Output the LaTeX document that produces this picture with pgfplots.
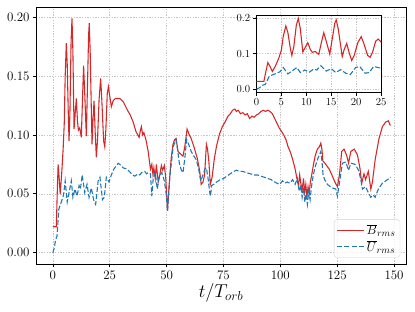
\documentclass[border=0pt]{standalone}
\usepackage{pgfplots}
\pgfplotsset{compat=1.18}
\usepackage{pgfplotstable}
\definecolor{tabred}{HTML}{D62728}
\definecolor{tabblue}{HTML}{1F77B4}

\pgfplotstableread{
t v
0 0.022
1.5 0.022
1.9 0.050
2.3 0.075
2.7 0.065
3.2 0.050
3.8 0.065
4.5 0.088
5.0 0.110
5.4 0.150
5.9 0.178
6.3 0.160
6.8 0.115
7.1 0.095
7.5 0.120
8.0 0.180
8.4 0.199
8.8 0.170
9.3 0.105
9.8 0.118
10.3 0.131
10.8 0.112
11.2 0.104
11.8 0.106
12.5 0.098
13.0 0.130
13.5 0.159
14.0 0.135
14.7 0.099
15.3 0.150
15.7 0.185
16.0 0.195
16.4 0.170
17.2 0.092
17.6 0.112
18.1 0.129
18.6 0.102
19.1 0.081
19.6 0.095
20.3 0.130
21.0 0.148
21.5 0.130
22.3 0.095
22.8 0.090
23.3 0.105
23.9 0.135
24.4 0.141
25.0 0.133
25.7 0.124
26.5 0.129
27.5 0.131
29.4 0.131
31.0 0.128
32.8 0.121
34.0 0.117
35.3 0.111
36.5 0.103
37.9 0.098
38.5 0.104
38.9 0.107
39.5 0.100
40.0 0.102
40.9 0.096
41.9 0.086
42.9 0.071
43.5 0.075
44.0 0.066
44.4 0.072
45.0 0.063
45.5 0.075
46.3 0.060
47.0 0.066
47.7 0.074
48.3 0.070
49.0 0.074
49.6 0.064
50.4 0.036
51.2 0.060
52.0 0.080
52.8 0.092
53.5 0.096
54.2 0.097
55.0 0.086
56.0 0.084
57.2 0.082
58.0 0.090
59.0 0.105
60.0 0.100
60.8 0.097
62.0 0.090
63.5 0.080
64.5 0.070
65.2 0.058
66.0 0.060
66.7 0.066
67.5 0.092
68.0 0.088
68.6 0.077
69.2 0.058
70.0 0.064
71.0 0.080
72.0 0.091
73.3 0.101
74.5 0.107
75.7 0.111
77.0 0.116
78.0 0.118
79.0 0.121
80.0 0.122
80.7 0.120
81.5 0.121
82.5 0.118
83.5 0.119
84.5 0.117
85.5 0.118
86.5 0.114
87.5 0.116
88.5 0.115
89.5 0.117
90.5 0.118
91.5 0.120
92.5 0.121
93.5 0.120
94.5 0.121
95.5 0.120
96.5 0.118
97.5 0.114
98.5 0.110
99.5 0.106
100.5 0.103
101.5 0.100
102.5 0.096
103.4 0.090
104.5 0.085
105.6 0.078
106.4 0.072
107.0 0.066
107.6 0.060
108.0 0.057
108.5 0.066
109.0 0.059
109.6 0.053
110.2 0.063
110.7 0.051
111.2 0.058
111.7 0.047
112.2 0.056
112.7 0.050
113.2 0.060
113.8 0.066
114.5 0.074
115.3 0.082
116.3 0.088
117.2 0.090
117.8 0.093
118.3 0.088
118.7 0.078
120.0 0.075
121.5 0.071
122.9 0.065
124.0 0.060
125.1 0.056
126.0 0.066
127.0 0.086
128.0 0.088
129.1 0.083
130.0 0.076
131.0 0.086
132.5 0.088
133.9 0.083
135.0 0.072
135.8 0.059
136.8 0.067
137.5 0.062
138.7 0.069
139.8 0.054
140.5 0.060
141.7 0.079
143.4 0.097
144.9 0.107
146.3 0.111
147.5 0.112
148.4 0.108
}\Bdata

\pgfplotstableread{
t v
0 0.000
0.6 0.004
1.2 0.011
1.8 0.014
2.6 0.037
3.7 0.043
4.7 0.049
5.4 0.061
6.3 0.043
7.1 0.051
8.1 0.061
8.8 0.047
9.7 0.054
10.6 0.048
11.5 0.057
12.1 0.054
12.9 0.066
14.0 0.051
15.0 0.058
15.9 0.047
16.9 0.055
17.9 0.045
18.8 0.041
19.9 0.061
20.7 0.064
21.8 0.045
22.6 0.047
23.5 0.064
24.7 0.060
25.7 0.066
26.8 0.071
28.7 0.076
30.0 0.074
30.9 0.072
32.6 0.071
34.1 0.068
35.0 0.066
36.0 0.065
37.5 0.067
38.2 0.066
39.0 0.068
40.4 0.069
41.2 0.067
41.9 0.068
42.9 0.067
43.5 0.048
44.1 0.063
45.0 0.068
45.9 0.054
46.8 0.065
47.9 0.068
49.0 0.061
49.8 0.050
50.4 0.035
51.5 0.066
52.9 0.090
54.1 0.096
54.8 0.088
55.6 0.076
56.5 0.070
57.2 0.068
58.0 0.080
58.8 0.096
59.5 0.093
60.8 0.086
62.0 0.082
63.0 0.079
64.0 0.072
65.0 0.061
66.0 0.066
66.8 0.071
67.5 0.072
68.3 0.062
68.9 0.052
69.3 0.048
69.8 0.057
70.7 0.058
72.0 0.060
73.5 0.062
75.0 0.063
76.5 0.065
78.0 0.067
79.5 0.069
80.7 0.070
82.0 0.069
83.5 0.069
85.0 0.068
86.8 0.067
88.5 0.066
90.0 0.066
91.5 0.065
93.0 0.064
94.5 0.063
96.0 0.062
97.5 0.060
98.5 0.059
99.7 0.058
101.0 0.061
102.0 0.059
103.0 0.060
104.2 0.059
105.4 0.062
106.5 0.058
107.5 0.063
108.3 0.052
109.0 0.057
109.6 0.047
110.2 0.055
110.8 0.043
111.3 0.050
111.9 0.041
112.5 0.052
113.1 0.045
113.7 0.056
114.5 0.066
115.5 0.074
116.5 0.080
117.8 0.086
118.3 0.078
118.8 0.066
119.5 0.062
120.7 0.058
122.0 0.056
122.9 0.055
124.4 0.054
125.1 0.048
126.2 0.062
127.3 0.076
128.8 0.077
130.0 0.070
131.0 0.076
132.9 0.075
134.4 0.070
135.4 0.062
136.1 0.054
137.5 0.056
138.7 0.051
139.8 0.047
140.8 0.049
141.7 0.047
143.1 0.054
144.9 0.059
147.1 0.062
148.5 0.064
}\Udata

\begin{document}
\begin{tikzpicture}
\useasboundingbox (0,0) rectangle (460.8pt,345.6pt);
\begin{axis}[
  at={(39.9pt,52.1pt)}, anchor=south west,
  scale only axis, width=411pt, height=285.8pt,
  xmin=-7.46, xmax=155.3, ymin=-0.00995, ymax=0.2088,
  xtick={0,25,50,75,100,125,150},
  ytick={0,0.05,0.1,0.15,0.2},
  yticklabel style={/pgf/number format/.cd, fixed, fixed zerofill, precision=2},
  scaled y ticks=false,
  tick pos=left, tick align=outside, major tick length=3.5pt,
  tick style={line width=0.8pt, black},
  grid=major, grid style={gray!45, dash pattern=on 1.5pt off 1.5pt, line width=0.6pt},
  axis line style={line width=0.8pt},
  ticklabel style={font=\fontsize{14}{16}\selectfont},
  xlabel={$t/T_{orb}$}, xlabel style={font=\fontsize{20}{24}\selectfont, yshift=2pt},
  legend style={at={(0.984,0.027)}, anchor=south east, draw=gray!35, rounded corners=2pt,
    fill=white, fill opacity=0.8, text opacity=1, font=\fontsize{15}{18}\selectfont,
    row sep=1pt, inner sep=3pt},
  legend cell align=left,
  legend image code/.code={\draw[#1] (0pt,0pt) -- (30pt,0pt);},
]
\addplot[tabred, line width=1.2pt] table[x=t,y=v] {\Bdata};
\addlegendentry{$\overline{B}_{rms}$}
\addplot[tabblue, line width=1.2pt, dash pattern=on 5.5pt off 2.4pt] table[x=t,y=v] {\Udata};
\addlegendentry{$\overline{U}_{rms}$}
\end{axis}
\begin{axis}[
  at={(284.7pt,242.6pt)}, anchor=south west,
  scale only axis, width=138.5pt, height=86.4pt,
  xmin=0, xmax=25, ymin=-0.00995, ymax=0.209,
  xtick={0,5,10,15,20,25},
  ytick={0,0.1,0.2},
  yticklabel style={/pgf/number format/.cd, fixed, fixed zerofill, precision=1},
  scaled y ticks=false,
  tick pos=left, tick align=outside, major tick length=3.5pt,
  tick style={line width=0.8pt, black},
  grid=major, grid style={gray!45, dash pattern=on 1.5pt off 1.5pt, line width=0.6pt},
  axis line style={line width=0.8pt},
  axis background/.style={fill=white},
  ticklabel style={font=\fontsize{11.5}{13}\selectfont},
  xticklabel style={yshift=1pt},
]
\addplot[tabred, line width=1.2pt] table[x=t,y=v] {\Bdata};
\addplot[tabblue, line width=1.2pt, dash pattern=on 5.5pt off 2.4pt] table[x=t,y=v] {\Udata};
\end{axis}
\end{tikzpicture}
\end{document}
